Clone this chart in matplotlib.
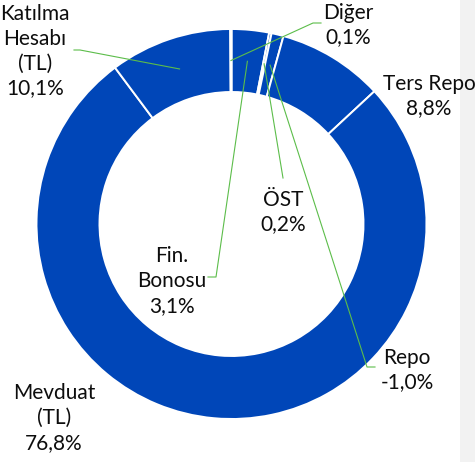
import numpy as np
import matplotlib
matplotlib.use("Agg")
import matplotlib.pyplot as plt
from matplotlib.patches import Rectangle

plt.rcParams['font.family'] = ['Lato', 'DejaVu Sans']

# Data: share of each item (%), clockwise from the top
names = ['Fin.\nBonosu', 'ÖST', 'Repo', 'Ters Repo', 'Mevduat\n(TL)', 'Katılma\nHesabı\n(TL)', 'Diğer']
shares = [3.1, 0.2, -1.0, 8.8, 76.8, 10.1, 0.1]

BLUE = '#0046B8'
GREEN = '#5CBD4A'

# label centres in pixel coords (y down)
label_pos = [(172, 281), (283, 212), (407, 370), (429, 96), (54, 418), (35, 51), (348, 25)]
# leader elbows: (elbow, stub end) or None
leaders = [((216, 277), (208, 277)),
           ((283, 178), None),
           ((367, 367), (375, 367)),
           None,
           None,
           ((80, 50), (74, 50)),
           ((313, 23), (321, 23))]

fig = plt.figure(figsize=(4.75, 4.62), dpi=100)
ax = fig.add_axes([0, 0, 1, 1])

cx, cy, R, ring = 231.5, 224, 195, 63
wedges, _ = ax.pie(np.abs(shares), startangle=-90, counterclock=True,
                   colors=[BLUE] * len(shares), radius=R, center=(cx, cy),
                   wedgeprops=dict(width=ring, edgecolor='white', linewidth=1.4))

ax.set_xlim(0, 475)
ax.set_ylim(462, 0)
ax.set_aspect('auto')
ax.axis('off')

# grey strip on the right
ax.add_patch(Rectangle((460, 0), 15, 462, facecolor='#F2F2F2', edgecolor='none', zorder=0))

rmid = R - ring / 2
for w, name, v, pos, ld in zip(wedges, names, shares, label_pos, leaders):
    txt = name + '\n' + f"{v:.1f}".replace('.', ',') + '%'
    ax.text(pos[0], pos[1], txt, ha='center', va='center', fontsize=15,
            linespacing=1.3, color='#0D0D0D', zorder=5)
    if ld is not None:
        a = np.deg2rad((w.theta1 + w.theta2) / 2)
        x0, y0 = cx + rmid * np.cos(a), cy + rmid * np.sin(a)
        xs, ys = [x0, ld[0][0]], [y0, ld[0][1]]
        if ld[1] is not None:
            xs.append(ld[1][0])
            ys.append(ld[1][1])
        ax.plot(xs, ys, color=GREEN, lw=0.8, zorder=4)

fig.savefig('out.png', dpi=100)
